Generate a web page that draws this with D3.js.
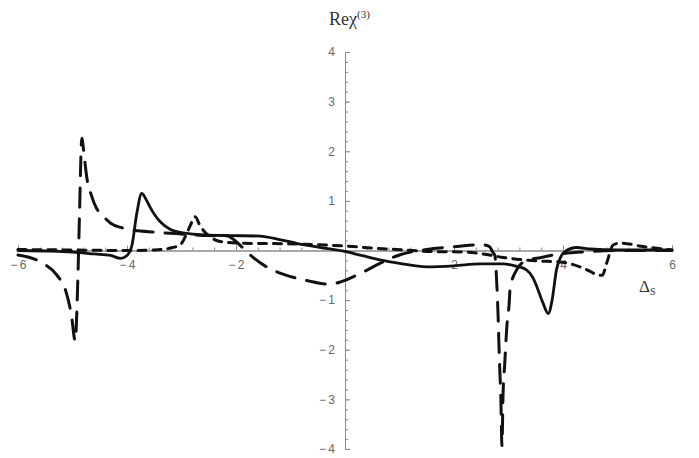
<!DOCTYPE html>
<html>
<head>
<meta charset="utf-8">
<script src="https://cdn.jsdelivr.net/npm/d3@7"></script>
<style>
  body { margin: 0; background: #fff; }
  svg { display: block; }
</style>
</head>
<body>
<div id="chart"></div>
<script>
// Re chi(3) vs detuning Delta_s, three curves (solid, long dash, short dash)

const xMajorTicks = [-6, -4, -2, 2, 4, 6];
const yMajorTicks = [-4, -3, -2, -1, 1, 2, 3, 4];

// solid curve
const solidX = [-6, -5.5, -5, -4.6, -4.3, -4.12, -4.0, -3.91, -3.82, -3.73, -3.66, -3.58, -3.48, -3.39, -3.21, -3.0, -2.5, -2.1, -1.56, -1.2, -0.89, -0.45, 0, 0.3, 0.64, 1.0, 1.5, 2.0, 2.48, 2.9, 3.15, 3.33, 3.45, 3.52, 3.63, 3.73, 3.8, 3.88, 3.95, 4.04, 4.25, 4.5, 5, 6];
const solidY = [0, -0.01, -0.03, -0.07, -0.1, -0.16, -0.1, 0.1, 0.75, 1.15, 1.05, 0.88, 0.7, 0.58, 0.43, 0.36, 0.31, 0.3, 0.29, 0.22, 0.145, 0.06, -0.02, -0.1, -0.19, -0.26, -0.33, -0.31, -0.27, -0.27, -0.32, -0.39, -0.55, -0.73, -1.05, -1.27, -1.0, -0.39, -0.15, -0.02, 0.06, 0.03, 0.01, 0.01];

// long dashed curve
const longX = [-6, -5.54, -5.29, -5.12, -5.02, -4.95, -4.9, -4.87, -4.83, -4.78, -4.74, -4.65, -4.56, -4.46, -4.3, -4.1, -3.88, -3.5, -3.1, -2.5, -2.15, -2.08, -1.9, -1.74, -1.44, -1.1, -0.68, -0.3, -0.1, 0, 0.34, 0.64, 1.0, 1.5, 2.05, 2.5, 2.65, 2.72, 2.75, 2.78, 2.81, 2.83, 2.86, 2.88, 2.9, 2.93, 2.97, 3.01, 3.03, 3.15, 3.3, 3.6, 4.0, 4.5, 5, 6];
const longY = [-0.09, -0.26, -0.49, -0.83, -1.3, -1.82, -0.5, 0.8, 2.26, 1.85, 1.49, 1.1, 0.85, 0.72, 0.55, 0.46, 0.41, 0.37, 0.34, 0.3, 0.29, 0.25, 0.08, -0.09, -0.33, -0.49, -0.61, -0.68, -0.64, -0.6, -0.43, -0.26, -0.09, 0.02, 0.08, 0.12, 0.08, -0.05, -0.1, -0.56, -1.35, -2.1, -3.0, -3.93, -2.9, -2.3, -1.53, -1.1, -0.76, -0.39, -0.22, -0.14, -0.06, -0.02, 0, 0];

// short dashed curve
const shortX = [-6, -5, -4, -3.5, -3.2, -3.03, -2.9, -2.84, -2.75, -2.66, -2.57, -2.48, -2.29, -1.87, -1.4, -0.89, 0, 0.5, 0.95, 1.56, 2.17, 2.48, 2.9, 3.52, 3.94, 4.31, 4.5, 4.65, 4.72, 4.8, 4.92, 5.05, 5.47, 6];
const shortY = [0.02, 0.01, 0, 0.01, 0.05, 0.11, 0.35, 0.5, 0.68, 0.5, 0.37, 0.28, 0.18, 0.145, 0.14, 0.13, 0.09, 0.05, 0.02, -0.02, -0.03, -0.06, -0.14, -0.21, -0.23, -0.33, -0.42, -0.5, -0.5, -0.26, 0.11, 0.15, 0.08, 0.01];

const width = 699, height = 458;

const x = d3.scaleLinear().domain([-6, 6]).range([18, 672]);
const y = d3.scaleLinear().domain([-4, 4]).range([449, 52]);

const svg = d3.select("#chart").append("svg")
  .attr("width", width)
  .attr("height", height);

const fmt = d => d < 0 ? "\u2212\u2009" + (-d) : String(d);

// x axis (ticks point up, labels below)
const xAxisG = svg.append("g").attr("transform", `translate(0, ${y(0)})`);
xAxisG.call(d3.axisBottom(x).tickValues(d3.range(-6, 6.001, 0.4)).tickSize(-3).tickFormat(""));
xAxisG.append("g").call(d3.axisBottom(x).tickValues(xMajorTicks).tickSize(-5).tickPadding(10).tickFormat(fmt));

// y axis (ticks point right, labels left)
const yAxisG = svg.append("g").attr("transform", `translate(${x(0)}, 0)`);
yAxisG.call(d3.axisLeft(y).tickValues(d3.range(-4, 4.001, 0.2)).tickSize(-3).tickFormat(""));
yAxisG.append("g").call(d3.axisLeft(y).tickValues(yMajorTicks).tickSize(-5).tickPadding(10).tickFormat(fmt));

svg.selectAll(".domain").attr("stroke", "#8a8a8a").attr("stroke-width", 1);
svg.selectAll(".tick line").attr("stroke", "#8a8a8a").attr("stroke-width", 1);
svg.selectAll(".tick text")
  .style("font-family", "'Liberation Sans', Arial, sans-serif")
  .style("font-size", "12px")
  .attr("fill", "#666");

// curves
const line = d3.line()
  .x(d => x(d[0]))
  .y(d => y(d[1]))
  .curve(d3.curveMonotoneX);

const curves = [
  { xs: solidX, ys: solidY, dash: null, w: 2.8 },
  { xs: longX, ys: longY, dash: "19,12", w: 3 },
  { xs: shortX, ys: shortY, dash: "8,7", w: 3 }
];

curves.forEach(c => {
  svg.append("path")
    .datum(c.xs.map((v, i) => [v, c.ys[i]]))
    .attr("d", line)
    .attr("fill", "none")
    .attr("stroke", "#111")
    .attr("stroke-width", c.w)
    .attr("stroke-linecap", "round")
    .attr("stroke-linejoin", "round")
    .attr("stroke-dasharray", c.dash);
});

// axis labels
const title = svg.append("text")
  .attr("x", 329).attr("y", 25)
  .style("font-family", "'Liberation Serif', 'Times New Roman', serif")
  .style("font-size", "18px")
  .attr("fill", "#333");
title.append("tspan").text("Re\u03C7");
title.append("tspan").attr("dy", -7).style("font-size", "11px").text("(3)");

const xlab = svg.append("text")
  .attr("x", 639).attr("y", 292)
  .style("font-family", "'Liberation Serif', 'Times New Roman', serif")
  .style("font-size", "17px")
  .attr("fill", "#333");
xlab.append("tspan").text("\u0394");
xlab.append("tspan").attr("dy", 3).style("font-size", "10px").text("S");
</script>
</body>
</html>
